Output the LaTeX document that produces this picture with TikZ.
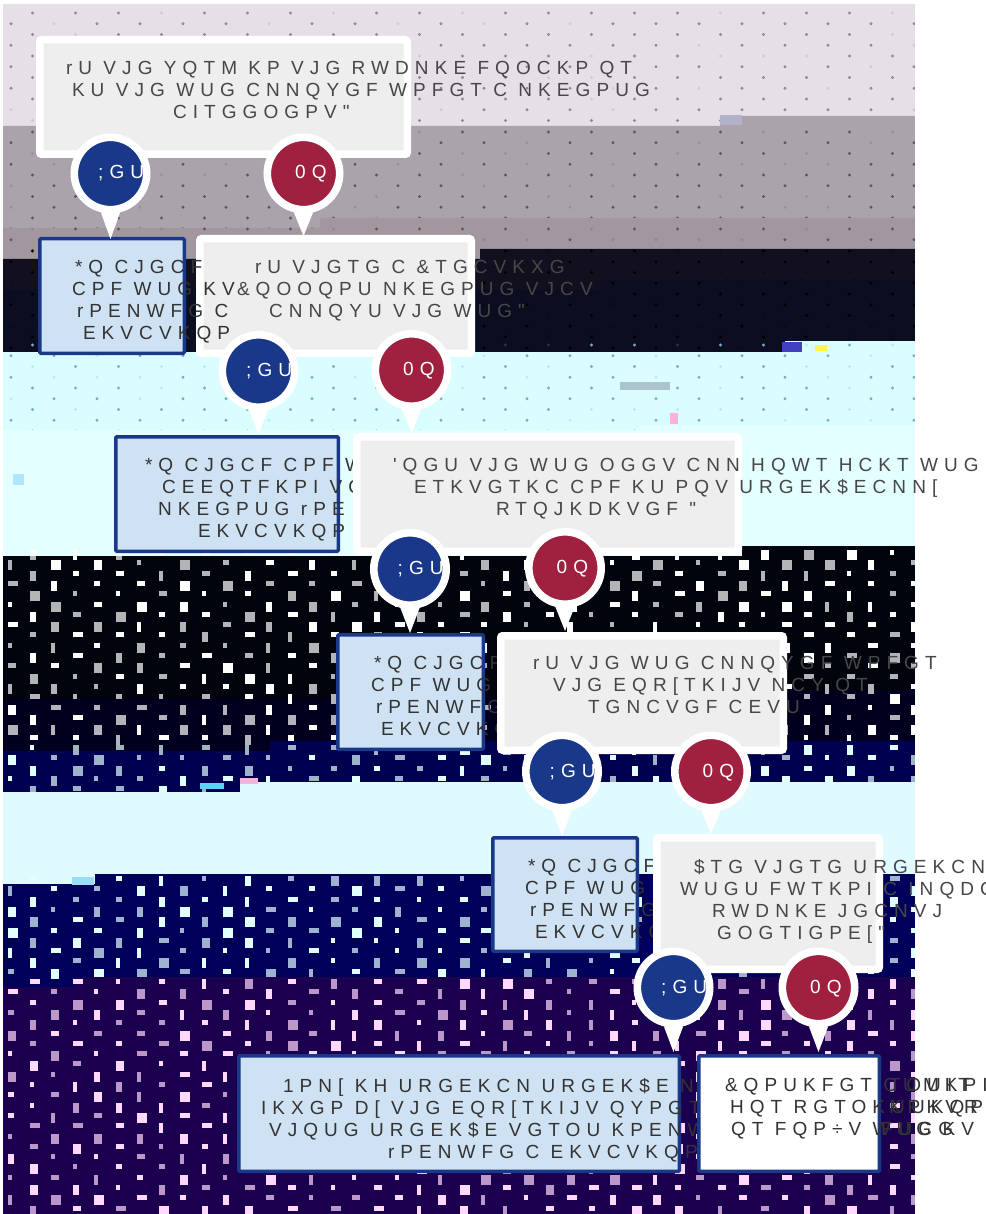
\documentclass[tikz,border=0pt]{standalone}
\usepackage{fontspec}
\newfontfamily\labelfont[LetterSpace=32]{Liberation Sans}
\definecolor{YesBlue}{RGB}{26, 56, 138}
\definecolor{NoRed}{RGB}{160, 33, 63}
\definecolor{PaleBlue}{RGB}{207, 226, 243}
\definecolor{PaleGray}{RGB}{238, 238, 238}
\definecolor{SpeckCyan}{RGB}{226, 255, 255}
\definecolor{SpeckPink}{RGB}{255, 216, 255}
\definecolor{BandMauve}{RGB}{230, 223, 232}
\definecolor{BandGray}{RGB}{171, 163, 172}
\definecolor{BandDusk}{RGB}{163, 151, 159}
\definecolor{BandInk}{RGB}{18, 16, 31}
\definecolor{BandNight}{RGB}{11, 14, 32}
\definecolor{BandIce}{RGB}{218, 253, 255}
\definecolor{BandFrost}{RGB}{228, 255, 255}
\definecolor{BandBlack}{RGB}{0, 4, 12}
\definecolor{BandDeep}{RGB}{0, 0, 30}
\definecolor{BandNavy}{RGB}{0, 0, 80}
\definecolor{BandPale}{RGB}{224, 251, 255}
\definecolor{BandBlue}{RGB}{0, 0, 90}
\definecolor{BandPurple}{RGB}{28, 0, 80}
\tikzset{
    lbl/.style={font=\labelfont\fontsize{19}{22}\selectfont, inner sep=0pt, outer sep=0pt, anchor=north west, align=left, yshift=-3pt, execute at begin node={\strut}},
    asktext/.style={lbl, text=black!72},
    gotext/.style={lbl, text=black!80},
    askbox/.style 2 args={draw=white, fill=PaleGray, line width=7.5pt, rounded corners=2pt, minimum width=#1-7.5pt, minimum height=#2-7.5pt},
    gobox/.style 2 args={draw=YesBlue, fill=PaleBlue, line width=3.5pt, rounded corners=1pt, minimum width=#1-3.5pt, minimum height=#2-3.5pt},
    bubble/.style={circle, draw=white, line width=7.6pt, minimum size=72.4pt, inner sep=0pt},
    bubbletext/.style={font=\labelfont\fontsize{19}{22}\selectfont, text=white, inner sep=0pt, anchor=base west}
}
\newcommand{\bandfill}[4]{\fill[#4] (3,#1) -- (#3,#1) -- (#3,#2) -- (915,#2) -- (915,1214) -- (3,1214) -- cycle;}
\newcommand{\dotrows}[3]{
    \foreach \row in {0,...,#2}{
        \pgfmathsetmacro{\rowx}{11+21.5*mod(\row+1,2)}
        \foreach \col in {0,...,21}{
            \pgfmathsetmacro{\dotop}{random(0,3)>0 ? 1 : 0.25}
            \fill[#3, opacity=\dotop] (\rowx+43*\col,#1+10.75*\row) circle (1.7);
        }
    }
}
\newcommand{\speckrows}[3]{
    \foreach \row in {0,...,#2}{
        \pgfmathsetmacro{\rowx}{8+21.5*mod(\row+1,2)}
        \foreach \col in {0,...,21}{
            \pgfmathsetmacro{\spw}{int(random(2,5))*2}
            \pgfmathsetmacro{\sph}{int(random(1,2))*5}
            \pgfmathsetmacro{\spo}{random(0,1)*0.3+0.7}
            \fill[#3, opacity=\spo] (\rowx+43*\col,#1+10.3*\row) rectangle ++(\spw,\sph);
        }
    }
}
\begin{document}
\begin{tikzpicture}[x=1pt, y=-1pt]
    \useasboundingbox (0,0) rectangle (985,1214);
    \pgfmathsetseed{41}
    \begin{scope}
        \clip (3,4) rectangle (915,1214);
        \bandfill{4}{4}{720}{BandMauve}
        \dotrows{13}{10}{black!45}
        \bandfill{126}{116}{720}{BandGray}
        \dotrows{132}{9}{black!65}
        \bandfill{228}{218}{320}{BandDusk}
        \dotrows{229}{2}{black!65}
        \bandfill{259}{249}{480}{BandInk}
        \bandfill{290}{280}{600}{BandNight}
        \dotrows{251}{9}{black}
        \bandfill{352}{341}{785}{BandIce}
        \dotrows{345}{19}{cyan!45!gray!90}
        \bandfill{430}{425}{640}{BandFrost}
        \bandfill{556}{546}{742}{BandBlack}
        \bandfill{699}{690}{600}{BandDeep}
        \speckrows{550}{18}{white}
        \bandfill{751}{741}{270}{BandNavy}
        \speckrows{745}{4}{SpeckCyan}
        \bandfill{792}{782}{240}{BandPale}
        \bandfill{884}{874}{95}{BandBlue}
        \speckrows{876}{9}{SpeckCyan}
        \bandfill{987}{977}{75}{BandPurple}
        \speckrows{979}{23}{SpeckPink}
        \foreach \gx/\gy/\gw/\gh/\gc in {720/115/22/10/blue!20!gray!50, 782/342/20/10/blue!50!gray, 815/345/12/6/yellow!70, 620/382/50/8/cyan!30!gray!60, 670/413/8/11/magenta!30, 13/474/11/11/cyan!30, 240/778/18/6/magenta!30, 200/783/24/6/cyan!60, 72/877/22/8/cyan!40}{
            \fill[\gc] (\gx,\gy) rectangle ++(\gw,\gh);
        }
    \end{scope}
    \fill[white] (915,0) rectangle (985,1214);

    \node[askbox={375}{122}] (ask1) at (223.5,97) {};
    \node[asktext] (ask1text) at (66,58) {rU VJG YQTM KP VJG RWDNKE FQOCKP QT\\
        \hspace*{6pt}KU VJG WUG CNNQYGF WPFGT C NKEGPUG\\
        \hspace*{107pt}CITGGOGPV"};

    \node[gobox={148}{118}] (go1) at (112,296) {};
    \node[askbox={279}{122}] (ask2) at (335.5,296) {};
    \node[gotext] (go1text) at (72,257) {\hspace*{3pt}*Q CJGCF\\
        CPF WUG KV\\
        \hspace*{5pt}rPENWFG C\\
        \hspace*{11pt}EKVCVKQP};
    \node[asktext] (ask2text) at (237,257) {\hspace*{18pt}rU VJGTG C \&TGCVKXG\\
        \&QOOQPU NKEGPUG VJCV\\
        \hspace*{32pt}CNNQYU VJG WUG"};

    \node[gobox={226}{118}] (go2) at (227,494) {};
    \node[gotext] (go2text) at (145,455) {*Q CJGCF CPF W\\
        \hspace*{17pt}CEEQTFKPI VQ\\
        \hspace*{13pt}NKEGPUG rPE\\
        \hspace*{53pt}EKVCVKQP};
    \node[askbox={389}{122}] (ask3) at (547.5,494) {};
    \node[asktext] (ask3text) at (393,455) {'QGU VJG WUG OGGV CNN HQWT HCKT WUG\\
        \hspace*{21pt}ETKVGTKC CPF KU PQV URGEK\$ECNN[\\
        \hspace*{103pt}RTQJKDKVGF "};

    \node[gobox={149}{118}] (go3) at (410.5,692) {};
    \node[gotext] (go3text) at (371,653) {\hspace*{3pt}*Q CJGCF\\
        CPF WUG\\
        \hspace*{5pt}rPENWFG\\
        \hspace*{10pt}EKVCVKQP};
    \node[askbox={290}{122}] (ask4) at (642,693) {};
    \node[asktext] (ask4text) at (533,653) {rU VJG WUG CNNQYGF WPFGT\\
        \hspace*{20pt}VJG EQR[TKIJV NCY QT\\
        \hspace*{55pt}TGNCVGF CEVU};

    \node[gobox={148}{117}] (go4) at (565,894.5) {};
    \node[gotext] (go4text) at (525,856) {\hspace*{3pt}*Q CJGCF\\
        CPF WUG\\
        \hspace*{5pt}rPENWFG\\
        \hspace*{10pt}EKVCVKQP};
    \node[askbox={230}{139}] (ask5) at (768,903.5) {};
    \node[asktext] (ask5text) at (680,856) {\hspace*{14pt}\$TG VJGTG URGEKCN\\
        WUGU FWTKPI C INQDCN\\
        \hspace*{32pt}RWDNKE JGCNVJ\\
        \hspace*{37pt}GOGTIGPE["};

    \node[gobox={444}{119}] (go5) at (459,1113.5) {};
    \node[gotext] (go5text) at (261,1075) {\hspace*{22pt}1PN[ KH URGEKCN URGEK\$E N\\
        IKXGP D[ VJG EQR[TKIJV QYPGT\\
        \hspace*{8pt}VJQUG URGEK\$E VGTOU KPENW\\
        \hspace*{127pt}rPENWFG C EKVCVKQP};
    \node[gobox={184}{119}, fill=white] (stop) at (789,1113.5) {};
    \node[gotext] (stoptext) at (725,1075) {\&QPUKFGT CUMKPI\\
        \hspace*{5pt}HQT RGTOKUUKQP\\
        \hspace*{6pt}QT FQP÷V WUG KV};
    \node[gotext] (stopover) at (889,1075) {TOUIT\\
        KPKVR\\
        \hspace*{-8pt}FUCG};

    \foreach \name/\bx/\by/\tipy in {yes1/110.5/173.5/239, yes2/258.5/371/434, yes3/410/569/633, yes4/562/771.5/836, yes5/673.5/987.5/1052}{
        \node[bubble, fill=YesBlue] (\name) at (\bx,\by) {};
        \coordinate (\name tip) at (\bx,\tipy);
        \fill[white] (\name.-104) -- (\name tip) -- (\name.-76) -- cycle;
        \node[bubbletext] (\name text) at (\bx-12.5,\by+5.5) {;GU};
    }
    \foreach \name/\bx/\by/\tipy in {no1/303.5/173.5/236, no2/411.5/370/433, no3/565/568/631, no4/711/771.5/834, no5/818.5/987.5/1052}{
        \node[bubble, fill=NoRed] (\name) at (\bx,\by) {};
        \coordinate (\name tip) at (\bx,\tipy);
        \fill[white] (\name.-104) -- (\name tip) -- (\name.-76) -- cycle;
        \node[bubbletext] (\name text) at (\bx-8.5,\by+5.5) {0Q};
    }
\end{tikzpicture}
\end{document}
